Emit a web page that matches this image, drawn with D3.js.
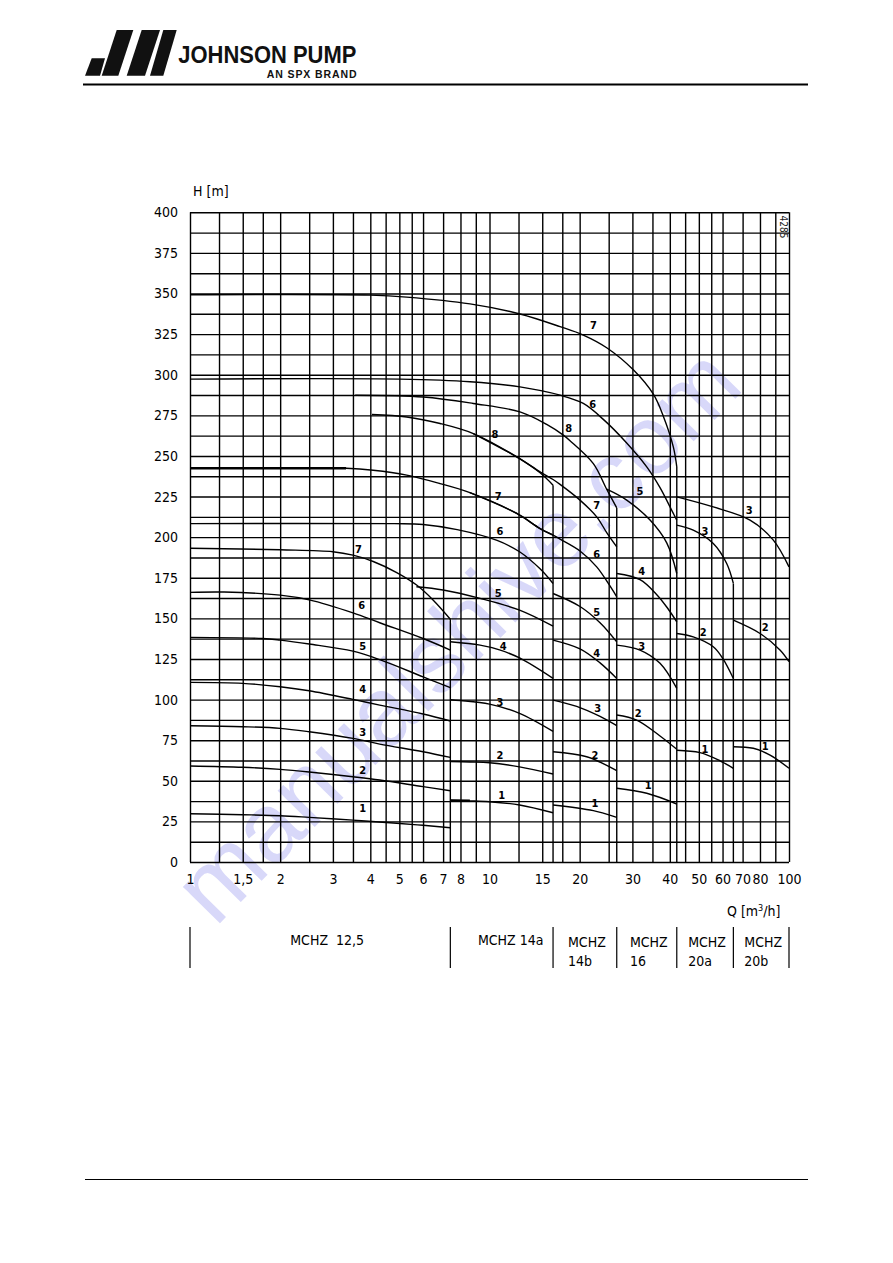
<!DOCTYPE html>
<html><head><meta charset="utf-8">
<script src="https://cdn.jsdelivr.net/npm/d3@7"></script>
<style>body{margin:0;background:#fff}svg{display:block}</style>
</head><body>
<svg id="c" width="893" height="1263"></svg>
<script>
// ---------- data ----------
const xTickValues=[1,1.5,2,3,4,5,6,7,8,10,15,20,30,40,50,60,70,80,100];
const xTickLabels=["1","1,5","2","3","4","5","6","7","8","10","15","20","30","40","50","60","70","80","100"];
const xGridValues=[1,1.25,1.5,1.75,2,2.5,3,3.5,4,4.5,5,5.5,6,7,8,9,10,12.5,15,17.5,20,25,30,35,40,45,50,55,60,70,80,90,100];
const yTickValues=[0,25,50,75,100,125,150,175,200,225,250,275,300,325,350,375,400];
const yGridValues=[0,12.5,25,37.5,50,62.5,75,87.5,100,112.5,125,137.5,150,162.5,175,187.5,200,212.5,225,237.5,250,262.5,275,287.5,300,312.5,325,337.5,350,362.5,375,387.5,400];

const familyNames=[["MCHZ  12,5"],["MCHZ 14a"],["MCHZ","14b"],["MCHZ","16"],["MCHZ","20a"],["MCHZ","20b"]];
const familyBounds=[1,7.4,16.3,26.6,42.2,65.2,100];
const familyEndHead=[149.5,232,218,243.3,171.5];

// MCHZ 12,5
const c125_1=[[1,29.7],[1.5,29.1],[2,28.5],[2.5,27.5],[3.5,25.8],[4.77,24],[6,22.6],[7.4,21.1]];
const c125_2=[[1,59.1],[1.5,58.3],[2,57],[2.5,55.4],[3.5,52.5],[4.3,50.5],[6,46.4],[7.4,43.9]];
const c125_3=[[1,83.9],[1.5,83.3],[2,82.3],[2.5,80.2],[3.5,76.1],[4.3,72.6],[6,67.9],[7.4,64.4]];
const c125_4=[[1,110.6],[1.5,110],[2,107.9],[2.5,105.4],[3.5,100.1],[4.3,96.6],[6,91.1],[7.4,86.8]];
const c125_5=[[1,138.3],[1.75,137.6],[2,136.6],[2.5,134.2],[3.5,129.8],[4.3,124.6],[6,114],[7.4,107.3]];
const c125_6=[[1,166],[1.3,166.2],[2,164.3],[2.5,161.4],[3.5,153.4],[4.3,147.3],[6,137.6],[7.4,130.5]];
const c125_7=[[1,193.2],[2,192.2],[3,191],[3.5,188.9],[4.09,185],[4.9,178.2],[5.71,170.5],[6.49,161.2],[7.4,149.5]];
// MCHZ 14a
const c14a_1=[[7.4,37.9],[8.6,37.6],[10,37.1],[12.6,35.1],[16.3,30.3]];
const c14a_2=[[7.4,61.9],[8.6,61.6],[10,61.1],[12.6,58.6],[16.3,54.2]];
const c14a_3=[[7.4,99.9],[8,99.4],[10,97.2],[12.6,91.5],[16.3,80.4]];
const c14a_4=[[7.4,135.6],[9.3,133.5],[10.8,130.6],[12.6,125.6],[16.3,113]];
const c14a_5=[[5.7,169.5],[7,167.5],[9.3,162.3],[12.6,155.1],[16.3,145.2]];
const c14a_6=[[1,208.3],[4.8,208.3],[6,207.8],[7.8,204.6],[10.6,198],[12.6,191],[14.75,180.5],[16.3,171.5]];
const c14a_7=[[1,242.4],[3.32,242.4],[4.09,241.2],[5.29,238.2],[6.84,233],[8.6,227.4],[12.33,214.6],[14.75,205.3],[16.3,201.2]];
const c14a_8=[[4.05,275.5],[5.29,274],[6.84,270],[8.83,263.8],[12.33,249.4],[14.75,239.6],[16.3,232]];
// MCHZ 14b
const c14b_1=[[16.3,35.1],[22.22,31.6],[26.6,27.5]];
const c14b_2=[[16.3,67.9],[21.11,64.8],[26.6,56.2]];
const c14b_3=[[16.3,99.7],[19.55,95.8],[23.39,89.6],[26.6,83.9]];
const c14b_4=[[16.3,136.6],[20.05,131.2],[23.39,122.6],[26.6,113]];
const c14b_5=[[16.3,165.3],[20.05,157.3],[23.39,147.3],[26.6,135.5]];
const c14b_6=[[8.6,227.4],[12.33,214.6],[14.75,205.3],[16.3,201.2],[17.2,198.8],[20.05,191.5],[22.8,181.7],[24.93,171.5],[26.6,163.3]];
const c14b_7=[[8.83,263.8],[12.33,249.4],[14.75,240.2],[16.3,235.5],[17.2,232.5],[20.05,222.8],[22.8,212.5],[24.62,202.8],[26.6,194]];
const c14b_8=[[3.56,287.4],[6.01,286.3],[8.83,282.3],[12.64,277.1],[15.52,269.4],[17.64,262.8],[18.57,259.4],[22.22,245.3],[24.62,229.5],[26.6,218]];
// MCHZ 16
const c16_1=[[26.6,45.4],[33.5,42.3],[42.2,35.7]];
const c16_2=[[26.6,90.5],[31,87.4],[37.1,77.6],[42.2,69.4]];
const c16_3=[[26.6,133.5],[31.8,130.5],[37.1,122.3],[42.2,106.9]];
const c16_4=[[26.6,177.6],[31.8,173.8],[36,165],[39.06,157],[42.2,147.9]];
const c16_5=[[24.62,229.5],[28.71,222.8],[34.36,210.5],[39.06,196.5],[42.2,177.6]];
const c16_6=[[1,297.3],[5.03,297.3],[8.61,295.7],[12.64,292.5],[17.2,287.4],[20.57,282.3],[23.99,272.5],[28.71,258],[33.5,243.3],[37.1,230.5],[41.09,214.6],[42.2,210.5]];
const c16_7=[[1,349.2],[4,349],[5.29,347.8],[8.61,343.6],[12.64,337.4],[17.2,329.6],[20.57,324.4],[24.62,316.6],[30.21,303],[35.24,288],[38.05,274.5],[41.09,255.6],[42.2,243.3]];
// MCHZ 20a
const c20a_1=[[42.2,68.8],[50.45,67.3],[58.84,62.3],[65.2,57.7]];
const c20a_2=[[42.2,140.7],[47.9,138.6],[55.87,132.5],[60,125.5],[65.2,113]];
const c20a_3=[[42.2,207.4],[47.9,204.3],[55.87,196.1],[61.94,183.8],[65.2,171.5]];
// MCHZ 20b
const c20b_1=[[65.2,71],[76,70],[86.44,65.8],[100,57.7]];
const c20b_2=[[65.2,148.9],[80.06,140.7],[93.3,130.5],[100,123.3]];
const c20b_3=[[42.2,224.8],[55.87,218.6],[74.1,210.5],[88.65,198.2],[100,181.7]];

const boldSegments=[[[1,242.4],[3.32,242.4]],[[7.4,37.9],[8.6,37.7]]];

// curve labels: [text, Q, H]
const labels125=[["7",3.65,192.6],["6",3.74,157.7],["5",3.77,132.5],["4",3.77,106.3],["3",3.77,79.6],["2",3.77,56.6],["1",3.77,33.0]];
const labels14a=[["8",10.43,263.4],["7",10.7,225.2],["6",10.84,203.3],["5",10.7,165.4],["4",11.12,132.9],["3",10.84,98.0],["2",10.84,65.8],["1",10.98,41.2]];
const labels14b=[["8",18.37,266.9],["7",22.8,219.7],["6",22.8,189.5],["5",22.8,153.4],["4",22.8,128.4],["3",22.98,94.6],["2",22.5,65.8],["1",22.5,36.1]];
const labels16=[["7",22.22,330.5],["6",22.11,281.8],["5",31.8,228.3],["4",32.22,179.1],["3",32.22,132.5],["2",31.39,91.5],["1",33.9,47.4]];
const labels20a=[["3",52.4,203.7],["2",51.7,141.1],["1",52.4,69.4]];
const labels20b=[["3",73.7,216.2],["2",83.2,144.4],["1",83.2,71.4]];

const allCurves=[c125_1,c125_2,c125_3,c125_4,c125_5,c125_6,c125_7,
 c14a_1,c14a_2,c14a_3,c14a_4,c14a_5,c14a_6,c14a_7,c14a_8,
 c14b_1,c14b_2,c14b_3,c14b_4,c14b_5,c14b_6,c14b_7,c14b_8,
 c16_1,c16_2,c16_3,c16_4,c16_5,c16_6,c16_7,
 c20a_1,c20a_2,c20a_3,c20b_1,c20b_2,c20b_3];
const allLabels=[].concat(labels125,labels14a,labels14b,labels16,labels20a,labels20b);

// ---------- drawing ----------
const FONT="'DejaVu Sans Condensed','DejaVu Sans',sans-serif";
const svg=d3.select("#c");
const L=190,R=789,T=212.3,B=862;
const x=d3.scaleLog().domain([1,100]).range([L,R]);
const y=d3.scaleLinear().domain([0,400]).range([B,T]);

// watermark
svg.append("text").attr("transform","translate(462,640) rotate(-45.5)")
 .attr("text-anchor","middle").attr("dominant-baseline","middle")
 .attr("font-family","'Liberation Sans',Arial,sans-serif").attr("font-size",98)
 .attr("textLength",757).attr("lengthAdjust","spacingAndGlyphs")
 .attr("fill","#c8c8f7").attr("opacity",0.7).text("manualshive.com");

// header logo
const logo=svg.append("g").attr("fill","#111");
[[[91.7,58.3],[105,58.3],[100,75.7],[85,75.7]],
 [[116.7,30],[133.3,30],[118.3,75.7],[101.7,75.7]],
 [[141.7,30],[160,30],[145,75.7],[126.7,75.7]],
 [[163.3,30],[176.7,30],[163.3,75.7],[150,75.7]]].forEach(p=>logo.append("polygon").attr("points",p.map(q=>q.join(",")).join(" ")));
svg.append("text").attr("x",178.3).attr("y",63.3).attr("font-family","'Liberation Sans',Arial,sans-serif")
 .attr("font-weight","bold").attr("font-size",24).attr("textLength",178).attr("lengthAdjust","spacingAndGlyphs").attr("fill","#111").text("JOHNSON PUMP");
svg.append("text").attr("x",266.7).attr("y",77.7).attr("font-family","'Liberation Sans',Arial,sans-serif")
 .attr("font-weight","bold").attr("font-size",10.5).attr("textLength",90).attr("lengthAdjust","spacing").attr("fill","#111").text("AN SPX BRAND");
svg.append("line").attr("x1",83).attr("x2",808).attr("y1",84.5).attr("y2",84.5).attr("stroke","#000").attr("stroke-width",2);
svg.append("line").attr("x1",85).attr("x2",808).attr("y1",1179.5).attr("y2",1179.5).attr("stroke","#000").attr("stroke-width",1);

// grid
const gx=svg.append("g").attr("transform",`translate(0,${B})`)
 .call(d3.axisBottom(x).tickValues(xGridValues).tickSize(-(B-T)).tickFormat(""));
gx.select(".domain").remove();
gx.selectAll("line").attr("stroke","#000").attr("stroke-width",1.4);
const gy=svg.append("g").attr("transform",`translate(${L},0)`)
 .call(d3.axisLeft(y).tickValues(yGridValues).tickSize(-(R-L)).tickFormat(""));
gy.select(".domain").remove();
gy.selectAll("line").attr("stroke","#000").attr("stroke-width",1.4);

// axis labels
const ax=svg.append("g").attr("transform",`translate(0,${B})`)
 .call(d3.axisBottom(x).tickValues(xTickValues).tickFormat((d,i)=>xTickLabels[i]).tickSize(0).tickPadding(12));
ax.select(".domain").remove();
ax.selectAll("text").attr("font-family",FONT).attr("font-size",14).attr("fill","#000");
const ay=svg.append("g").attr("transform",`translate(${L},0)`)
 .call(d3.axisLeft(y).tickValues(yTickValues).tickSize(0).tickPadding(12));
ay.select(".domain").remove();
ay.selectAll("text").attr("font-family",FONT).attr("font-size",14).attr("fill","#000");

svg.append("text").attr("x",193).attr("y",196).attr("font-family",FONT).attr("font-size",14).text("H [m]");
const qt=svg.append("text").attr("x",727).attr("y",916).attr("font-family",FONT).attr("font-size",14);
qt.append("tspan").text("Q [m");
qt.append("tspan").attr("font-size",9).attr("dy",-5).text("3");
qt.append("tspan").attr("dy",5).text("/h]");
svg.append("text").attr("transform",`translate(${x(93.5)},${y(398)}) rotate(90)`).attr("font-family",FONT)
 .attr("font-size",10).attr("fill","#222").text("4285");

// curves
const line=d3.line().x(d=>x(d[0])).y(d=>y(d[1])).curve(d3.curveCatmullRom.alpha(0.5));
svg.append("g").selectAll("path").data(allCurves).join("path")
 .attr("d",line).attr("fill","none").attr("stroke","#000").attr("stroke-width",1.4);
svg.append("g").selectAll("path").data(boldSegments).join("path")
 .attr("d",d3.line().x(d=>x(d[0])).y(d=>y(d[1]))).attr("fill","none").attr("stroke","#000").attr("stroke-width",2.6);

// family end verticals
svg.append("g").selectAll("line").data(familyEndHead).join("line")
 .attr("x1",(d,i)=>x(familyBounds[i+1])).attr("x2",(d,i)=>x(familyBounds[i+1]))
 .attr("y1",d=>y(d)).attr("y2",y(0)).attr("stroke","#000").attr("stroke-width",1.4);

// curve labels
svg.append("g").selectAll("text").data(allLabels).join("text")
 .attr("x",d=>x(d[1])).attr("y",d=>y(d[2])).attr("text-anchor","middle").attr("dominant-baseline","central")
 .attr("font-family",FONT).attr("font-weight","bold").attr("font-size",11).text(d=>d[0]);

// bottom family table
const tb=svg.append("g");
tb.selectAll("line").data(familyBounds).join("line")
 .attr("x1",d=>x(d)).attr("x2",d=>x(d)).attr("y1",927).attr("y2",968).attr("stroke","#000").attr("stroke-width",1.2);
familyNames.forEach((nm,i)=>{
  const mid=(x(familyBounds[i])+x(familyBounds[i+1]))/2;
  if(nm.length===1){
    tb.append("text").attr("x",mid+(i===0?7:9)).attr("y",945).attr("text-anchor","middle").attr("font-family",FONT)
      .attr("font-size",14).style("white-space","pre").text(nm[0]);
  } else {
    const t=tb.append("text").attr("y",947).attr("font-family",FONT).attr("font-size",14).text(nm[0]);
    const w=t.node().getComputedTextLength();
    const x0=mid-w/2+2;
    t.attr("x",x0);
    tb.append("text").attr("x",x0).attr("y",966).attr("font-family",FONT).attr("font-size",14).text(nm[1]);
  }
});
</script>
</body></html>
